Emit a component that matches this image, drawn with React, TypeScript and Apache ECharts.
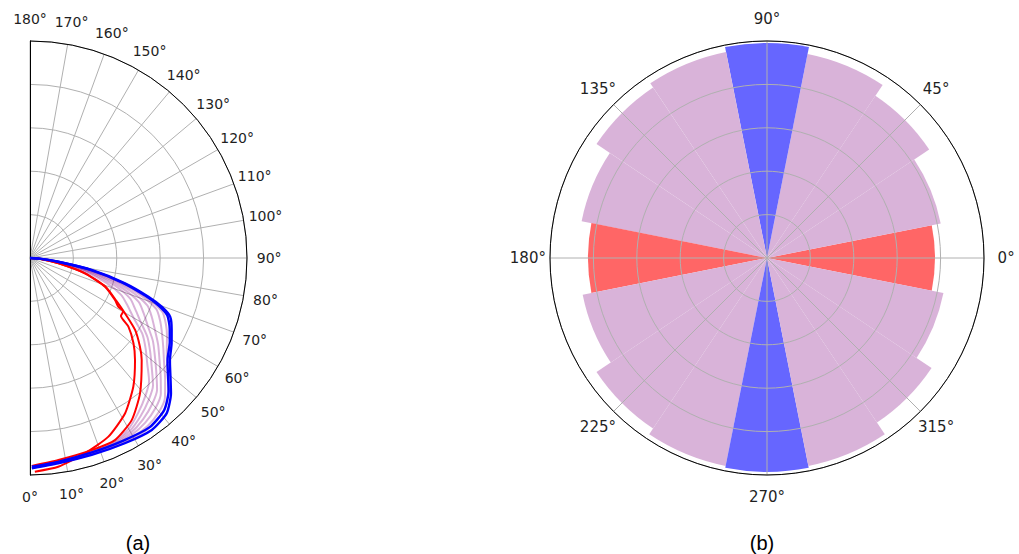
import React, { useEffect, useRef } from 'react';
import * as echarts from 'echarts';

// ---------- (a) half-polar curves: [angle in degrees, radius (normalised)] ----------
const blueOuter = [
  [90, 0], [86, 0.045], [82.5, 0.131], [79, 0.289], [75.1, 0.453], [71.9, 0.574], [69.7, 0.647],
  [67.3, 0.7], [63.1, 0.732], [58.9, 0.762], [53.9, 0.798], [52.6, 0.812], [46.2, 0.9],
  [41.4, 0.953], [35.3, 0.971], [27.1, 0.959], [17.4, 0.951], [7.8, 0.955], [0.5, 0.969],
];
const blueInner = [
  [90, 0], [86, 0.043], [82.5, 0.125], [79, 0.28], [75.1, 0.44], [71.9, 0.56], [69.7, 0.632],
  [67.3, 0.686], [63.1, 0.722], [58.9, 0.752], [53.9, 0.785], [52.6, 0.798], [46.2, 0.885],
  [41.4, 0.935], [35.3, 0.955], [27.1, 0.945], [17.4, 0.94], [7.8, 0.948], [0.5, 0.962],
];
const redInner = [
  [90, 0], [85, 0.05], [79.4, 0.133], [74.4, 0.263], [69.1, 0.37], [63.7, 0.437], [61, 0.466],
  [60.3, 0.495], [57.5, 0.497], [55.1, 0.553], [50.5, 0.618], [45.8, 0.675], [38.8, 0.76],
  [31.5, 0.839], [23.7, 0.899], [15.7, 0.935], [7.7, 0.971], [1.3, 0.985],
];
const redOuter = [
  [90, 0], [85, 0.051], [79.4, 0.135], [74.4, 0.266], [69.1, 0.374], [63.7, 0.443], [59.8, 0.506],
  [55.6, 0.587], [51.1, 0.651], [47.6, 0.697], [39.1, 0.804], [32.1, 0.882], [25, 0.926],
  [17.8, 0.93], [8, 0.94], [0.5, 0.958],
];

const purpleAngles = [90, 84, 80, 76, 72, 68, 64, 60, 56, 52, 48, 44, 40, 35, 30, 24, 18, 12, 6, 1];
const purple1 = [0, 0.076, 0.152, 0.267, 0.37, 0.453, 0.5, 0.551, 0.624, 0.676, 0.727, 0.79, 0.828, 0.87, 0.909, 0.932, 0.934, 0.938, 0.948, 0.959];
const purple2 = [0, 0.08, 0.17, 0.295, 0.41, 0.497, 0.54, 0.589, 0.653, 0.703, 0.755, 0.816, 0.852, 0.889, 0.92, 0.937, 0.937, 0.941, 0.95, 0.961];
const purple3 = [0, 0.085, 0.188, 0.323, 0.445, 0.54, 0.583, 0.627, 0.683, 0.73, 0.783, 0.843, 0.877, 0.908, 0.93, 0.942, 0.941, 0.944, 0.952, 0.963];
const purple4 = [0, 0.09, 0.205, 0.35, 0.483, 0.583, 0.625, 0.665, 0.712, 0.757, 0.81, 0.868, 0.901, 0.926, 0.94, 0.946, 0.944, 0.946, 0.954, 0.964];
const purple5 = [0, 0.094, 0.222, 0.378, 0.52, 0.627, 0.668, 0.703, 0.741, 0.784, 0.838, 0.895, 0.925, 0.945, 0.951, 0.951, 0.947, 0.949, 0.955, 0.966];
const purple6 = [0, 0.097, 0.233, 0.397, 0.545, 0.656, 0.697, 0.729, 0.76, 0.802, 0.856, 0.912, 0.941, 0.957, 0.958, 0.954, 0.949, 0.95, 0.956, 0.967];

// tick labels (degrees)
const halfTicks = [0, 10, 20, 30, 40, 50, 60, 70, 80, 90, 100, 110, 120, 130, 140, 150, 160, 170, 180];
const roseTicks = [0, 45, 90, 135, 180, 225, 270, 315];

// ---------- (b) rose: 16 bins of 22.5 degrees ----------
const roseBins = ['0', '22.5', '45', '67.5', '90', '112.5', '135', '157.5', '180', '202.5', '225', '247.5', '270', '292.5', '315', '337.5'];
const roseRadius = [0.774, 0.816, 0.899, 0.959, 0.991, 0.968, 0.945, 0.871, 0.825, 0.866, 0.945, 0.977, 0.986, 0.977, 0.912, 0.829];
const roseGroup = ['red', 'purple', 'purple', 'purple', 'blue', 'purple', 'purple', 'purple', 'red', 'purple', 'purple', 'purple', 'blue', 'purple', 'purple', 'purple'];

const panelLabels = ['(a)', '(b)'];

const groupColor: Record<string, string> = { red: '#ff6666', blue: '#6666ff', purple: '#d9b3d9' };
const GRID = '#b0b0b0';
const TEXT = '#1f1f1f';

export default function App() {
  const ref = useRef<HTMLDivElement>(null);
  useEffect(() => {
    if (!ref.current) return;
    const chart = echarts.init(ref.current, null, { renderer: 'svg' });
    const A_CENTER = [30, 258];
    const B_CENTER = [767, 258];
    const R = 217;
    const LABEL_R = 1.102;

    const purpleSets = [purple1, purple2, purple3, purple4, purple5, purple6];
    const curveSeries: any[] = [];
    purpleSets.forEach((rs) => {
      curveSeries.push({
        type: 'line', coordinateSystem: 'polar', polarIndex: 0, silent: true, smooth: 0.25,
        symbol: 'none', data: purpleAngles.map((t, i) => [rs[i], t]),
        lineStyle: { color: 'rgba(128,0,128,0.3)', width: 2 }, z: 2,
      });
    });
    [redInner, redOuter].forEach((c) => {
      curveSeries.push({
        type: 'line', coordinateSystem: 'polar', polarIndex: 0, silent: true, smooth: 0.2,
        symbol: 'none', data: c.map(([t, r]) => [r, t]),
        lineStyle: { color: '#ff0000', width: 2 }, z: 3,
      });
    });
    [blueInner, blueOuter].forEach((c) => {
      curveSeries.push({
        type: 'line', coordinateSystem: 'polar', polarIndex: 0, silent: true, smooth: 0.2,
        symbol: 'none', data: c.map(([t, r]) => [r, t]),
        lineStyle: { color: '#0000ff', width: 2.4 }, z: 4,
      });
    });

    const tickLabelSeries = (polarIndex: number, ticks: number[], fontSize: number) => ({
      type: 'scatter', coordinateSystem: 'polar', polarIndex, silent: true, clip: false,
      symbolSize: 1, itemStyle: { color: 'rgba(0,0,0,0)' },
      data: ticks.map((t) => [LABEL_R, t]),
      label: {
        show: true, position: 'inside', opacity: 1,
        formatter: (p: any) => `${p.value[1]}°`,
        color: TEXT, fontSize, fontFamily: 'DejaVu Sans',
      },
      z: 6,
    });

    const option: any = {
      animation: false,
      polar: [
        { center: A_CENTER, radius: R },
        { center: A_CENTER, radius: R },
        { center: B_CENTER, radius: R },
        { center: B_CENTER, radius: R },
      ],
      angleAxis: [
        {
          polarIndex: 0, type: 'value', min: 0, max: 180, interval: 10,
          startAngle: -90, endAngle: 90, clockwise: false,
          axisLine: { show: true, lineStyle: { color: '#000', width: 1 } },
          axisTick: { show: false }, axisLabel: { show: false },
          splitLine: { show: true, lineStyle: { color: GRID, width: 1 } },
        },
        {
          polarIndex: 1, type: 'value', min: 0, max: 180,
          startAngle: 90, endAngle: 270, clockwise: false, show: false,
        },
        {
          polarIndex: 2, type: 'category', data: roseBins, boundaryGap: false,
          startAngle: 0, clockwise: false, show: false,
        },
        {
          polarIndex: 3, type: 'value', min: 0, max: 360, interval: 45,
          startAngle: 0, clockwise: false, z: 5,
          axisLine: { show: true, lineStyle: { color: '#000', width: 1 } },
          axisTick: { show: false }, axisLabel: { show: false },
          splitLine: { show: true, lineStyle: { color: GRID, width: 1 } },
        },
      ],
      radiusAxis: [
        {
          polarIndex: 0, type: 'value', min: 0, max: 1, interval: 0.2,
          axisLine: { show: true, lineStyle: { color: '#000', width: 1 } },
          axisTick: { show: false }, axisLabel: { show: false },
          splitLine: { show: true, lineStyle: { color: GRID, width: 1 } },
        },
        {
          polarIndex: 1, type: 'value', min: 0, max: 1,
          axisLine: { show: true, lineStyle: { color: '#000', width: 1 } },
          axisTick: { show: false }, axisLabel: { show: false }, splitLine: { show: false },
        },
        { polarIndex: 2, type: 'value', min: 0, max: 1, show: false },
        {
          polarIndex: 3, type: 'value', min: 0, max: 1, interval: 0.2, z: 5,
          axisLine: { show: false }, axisTick: { show: false }, axisLabel: { show: false },
          splitLine: { show: true, lineStyle: { color: GRID, width: 1 } },
        },
      ],
      series: [
        ...curveSeries,
        {
          type: 'bar', coordinateSystem: 'polar', polarIndex: 2, silent: true,
          barWidth: '100%', barCategoryGap: '0%',
          data: roseRadius.map((v, i) => ({ value: v, itemStyle: { color: groupColor[roseGroup[i]] } })),
          z: 2,
        },
        tickLabelSeries(0, halfTicks, 14),
        tickLabelSeries(3, roseTicks, 15),
      ],
      graphic: [
        { type: 'text', x: 138, y: 543, style: { text: panelLabels[0], align: 'center', verticalAlign: 'middle', font: '20px "Liberation Sans", Arial, sans-serif', fill: '#000' } },
        { type: 'text', x: 762, y: 543, style: { text: panelLabels[1], align: 'center', verticalAlign: 'middle', font: '20px "Liberation Sans", Arial, sans-serif', fill: '#000' } },
      ],
    };
    chart.setOption(option);
    return () => chart.dispose();
  }, []);
  return (
    <div
      ref={ref}
      style={{ position: 'absolute', left: 0, top: 0, width: 1019, height: 554, background: '#fff' }}
    />
  );
}
